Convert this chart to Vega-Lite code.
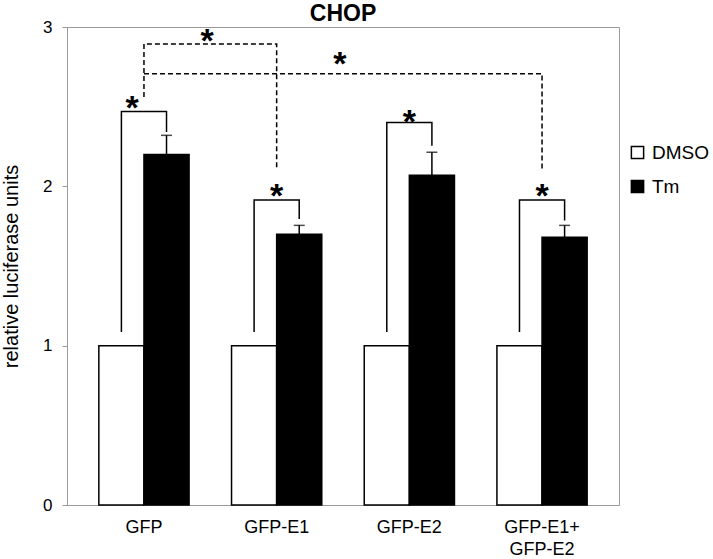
{
  "$schema": "https://vega.github.io/schema/vega-lite/v6.json",
  "width": 552,
  "height": 478,
  "autosize": {"type": "none"},
  "padding": {"left": 67, "top": 27, "right": 94, "bottom": 54},
  "config": {
    "font": "Liberation Sans",
    "view": {"stroke": "#9a9a9a", "strokeWidth": 1},
    "axis": {"grid": false, "domainColor": "#9a9a9a", "tickColor": "#9a9a9a", "labelColor": "black", "titleColor": "black", "labelFont": "Liberation Sans", "titleFont": "Liberation Sans"}
  },
  "title": {"text": "CHOP", "fontSize": 23, "fontWeight": "bold", "anchor": "middle", "frame": "group", "offset": -8, "color": "black"},
  "datasets": {
    "bars": [
      {"group": "GFP", "treatment": "DMSO", "value": 1.0, "hi": 1.0},
      {"group": "GFP", "treatment": "Tm", "value": 2.2, "hi": 2.32},
      {"group": "GFP-E1", "treatment": "DMSO", "value": 1.0, "hi": 1.0},
      {"group": "GFP-E1", "treatment": "Tm", "value": 1.7, "hi": 1.755},
      {"group": "GFP-E2", "treatment": "DMSO", "value": 1.0, "hi": 1.0},
      {"group": "GFP-E2", "treatment": "Tm", "value": 2.07, "hi": 2.214},
      {"group": "GFP-E1+GFP-E2", "treatment": "DMSO", "value": 1.0, "hi": 1.0},
      {"group": "GFP-E1+GFP-E2", "treatment": "Tm", "value": 1.68, "hi": 1.755}
    ],
    "brackets": [
      {"bracket": "b1", "seq": 1, "group": "GFP", "treatment": "DMSO", "y": 1.09},
      {"bracket": "b1", "seq": 2, "group": "GFP", "treatment": "DMSO", "y": 2.47},
      {"bracket": "b1", "seq": 3, "group": "GFP", "treatment": "Tm", "y": 2.47},
      {"bracket": "b1", "seq": 4, "group": "GFP", "treatment": "Tm", "y": 2.345},
      {"bracket": "b2", "seq": 1, "group": "GFP-E1", "treatment": "DMSO", "y": 1.09},
      {"bracket": "b2", "seq": 2, "group": "GFP-E1", "treatment": "DMSO", "y": 1.915},
      {"bracket": "b2", "seq": 3, "group": "GFP-E1", "treatment": "Tm", "y": 1.915},
      {"bracket": "b2", "seq": 4, "group": "GFP-E1", "treatment": "Tm", "y": 1.8},
      {"bracket": "b3", "seq": 1, "group": "GFP-E2", "treatment": "DMSO", "y": 1.09},
      {"bracket": "b3", "seq": 2, "group": "GFP-E2", "treatment": "DMSO", "y": 2.4},
      {"bracket": "b3", "seq": 3, "group": "GFP-E2", "treatment": "Tm", "y": 2.4},
      {"bracket": "b3", "seq": 4, "group": "GFP-E2", "treatment": "Tm", "y": 2.26},
      {"bracket": "b4", "seq": 1, "group": "GFP-E1+GFP-E2", "treatment": "DMSO", "y": 1.09},
      {"bracket": "b4", "seq": 2, "group": "GFP-E1+GFP-E2", "treatment": "DMSO", "y": 1.915},
      {"bracket": "b4", "seq": 3, "group": "GFP-E1+GFP-E2", "treatment": "Tm", "y": 1.915},
      {"bracket": "b4", "seq": 4, "group": "GFP-E1+GFP-E2", "treatment": "Tm", "y": 1.79}
    ],
    "dashed": [
      {"bracket": "d1", "seq": 1, "group": "GFP", "y": 2.56},
      {"bracket": "d1", "seq": 2, "group": "GFP", "y": 2.893},
      {"bracket": "d1", "seq": 3, "group": "GFP-E1", "y": 2.893},
      {"bracket": "d1", "seq": 4, "group": "GFP-E1", "y": 2.115},
      {"bracket": "d2", "seq": 1, "group": "GFP", "y": 2.707},
      {"bracket": "d2", "seq": 2, "group": "GFP-E1+GFP-E2", "y": 2.707},
      {"bracket": "d2", "seq": 3, "group": "GFP-E1+GFP-E2", "y": 2.094}
    ],
    "stars": [
      {"group": "GFP", "kind": "left", "y": 2.42},
      {"group": "GFP-E1", "kind": "center", "y": 1.87},
      {"group": "GFP-E2", "kind": "center", "y": 2.335},
      {"group": "GFP-E1+GFP-E2", "kind": "center", "y": 1.87},
      {"group": "GFP", "kind": "between", "y": 2.84},
      {"group": "GFP-E1", "kind": "between", "y": 2.70}
    ]
  },
  "layer": [
    {
      "data": {"name": "bars"},
      "mark": {"type": "bar", "stroke": "black", "strokeWidth": 1.5},
      "encoding": {
        "x": {"field": "group", "type": "nominal", "sort": null,
          "scale": {"type": "band", "domain": ["GFP", "GFP-E1", "GFP-E2", "GFP-E1+GFP-E2"], "paddingInner": 0.32, "paddingOuter": 0.24},
          "axis": {"title": null, "ticks": false, "labelAngle": 0, "labelFontSize": 18, "labelPadding": 13, "labelLineHeight": 22,
            "labelExpr": "datum.label == 'GFP-E1+GFP-E2' ? ['GFP-E1+', 'GFP-E2'] : datum.label"}},
        "xOffset": {"field": "treatment", "type": "nominal", "scale": {"domain": ["DMSO", "Tm"], "paddingInner": 0, "paddingOuter": 0}},
        "y": {"field": "value", "type": "quantitative",
          "scale": {"domain": [0, 3], "nice": false, "zero": true},
          "axis": {"title": "relative luciferase units", "titleFontSize": 20, "titleFontWeight": "normal", "titlePadding": 21, "values": [0, 1, 2, 3], "format": "d", "labelFontSize": 17, "tickSize": 5, "labelPadding": 10}},
        "fill": {"field": "treatment", "type": "nominal",
          "scale": {"domain": ["DMSO", "Tm"], "range": ["white", "black"]},
          "legend": {"title": null, "orient": "none", "legendX": 561, "legendY": 116, "symbolType": "square", "symbolSize": 150, "symbolStrokeColor": "black", "symbolStrokeWidth": 1.5, "labelFontSize": 19, "labelColor": "black", "rowPadding": 14, "labelOffset": 5}}
      }
    },
    {
      "data": {"name": "bars"},
      "transform": [{"filter": "datum.treatment == 'Tm'"}],
      "mark": {"type": "rule", "color": "black", "strokeWidth": 1.5},
      "encoding": {
        "x": {"field": "group", "type": "nominal"},
        "xOffset": {"field": "treatment", "type": "nominal"},
        "y": {"field": "value", "type": "quantitative"},
        "y2": {"field": "hi"}
      }
    },
    {
      "data": {"name": "bars"},
      "transform": [{"filter": "datum.treatment == 'Tm'"}],
      "mark": {"type": "tick", "color": "black", "size": 11, "thickness": 1.5, "orient": "horizontal"},
      "encoding": {
        "x": {"field": "group", "type": "nominal"},
        "xOffset": {"field": "treatment", "type": "nominal"},
        "y": {"field": "hi", "type": "quantitative"}
      }
    },
    {
      "data": {"name": "brackets"},
      "mark": {"type": "line", "color": "black", "strokeWidth": 1.5, "strokeCap": "square"},
      "encoding": {
        "x": {"field": "group", "type": "nominal"},
        "xOffset": {"field": "treatment", "type": "nominal"},
        "y": {"field": "y", "type": "quantitative"},
        "detail": {"field": "bracket"},
        "order": {"field": "seq", "type": "quantitative"}
      }
    },
    {
      "data": {"name": "dashed"},
      "mark": {"type": "line", "color": "black", "strokeWidth": 1.5, "strokeDash": [5, 3]},
      "encoding": {
        "x": {"field": "group", "type": "nominal"},
        "y": {"field": "y", "type": "quantitative"},
        "detail": {"field": "bracket"},
        "order": {"field": "seq", "type": "quantitative"}
      }
    },
    {
      "data": {"name": "stars"},
      "transform": [{"filter": "datum.kind == 'center'"}],
      "mark": {"type": "text", "text": "*", "fontSize": 34, "fontWeight": "bold", "baseline": "alphabetic", "align": "center", "color": "black"},
      "encoding": {
        "x": {"field": "group", "type": "nominal", "bandPosition": 0.5},
        "y": {"field": "y", "type": "quantitative"}
      }
    },
    {
      "data": {"name": "stars"},
      "transform": [{"filter": "datum.kind == 'left'"}],
      "mark": {"type": "text", "text": "*", "fontSize": 34, "fontWeight": "bold", "baseline": "alphabetic", "align": "center", "color": "black"},
      "encoding": {
        "x": {"field": "group", "type": "nominal", "bandPosition": 0.37},
        "y": {"field": "y", "type": "quantitative"}
      }
    },
    {
      "data": {"name": "stars"},
      "transform": [{"filter": "datum.kind == 'between'"}],
      "mark": {"type": "text", "text": "*", "fontSize": 34, "fontWeight": "bold", "baseline": "alphabetic", "align": "center", "color": "black"},
      "encoding": {
        "x": {"field": "group", "type": "nominal", "bandPosition": 1.2},
        "y": {"field": "y", "type": "quantitative"}
      }
    }
  ]
}
